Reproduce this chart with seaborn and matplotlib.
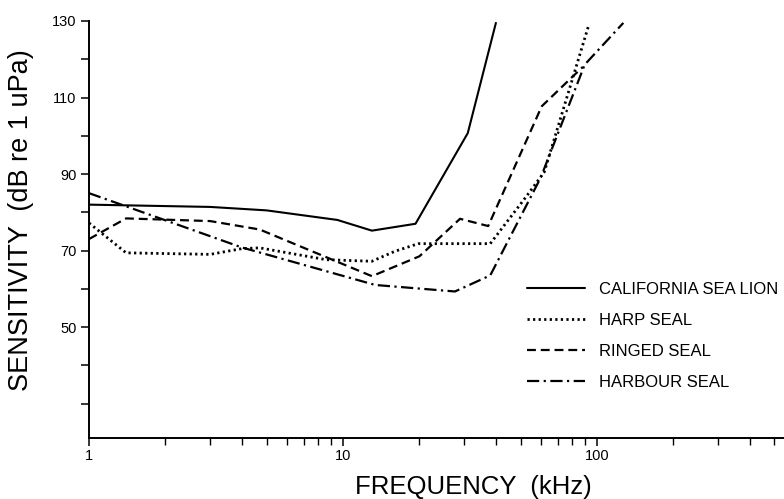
import numpy as np
import pandas as pd
import matplotlib
matplotlib.use("Agg")
import matplotlib.pyplot as plt
import matplotlib.ticker as mticker
import seaborn as sns

# ---- data ----
sealion_f = [1, 3, 5, 9.5, 13, 19.3, 31, 40]
sealion_db = [82, 81.4, 80.5, 78, 75.2, 77, 100.7, 129.5]

harp_f = [1, 1.4, 3, 4, 4.7, 8.6, 13, 16, 19.8, 38, 52.8, 62, 92.5]
harp_db = [77.2, 69.4, 69, 70.5, 70.7, 67.6, 67.2, 69.8, 71.8, 71.8, 84.2, 90.5, 128.6]

ringed_f = [1, 1.4, 3, 4.7, 13, 20, 28.9, 37.3, 60.6, 79.4, 88]
ringed_db = [73, 78.4, 77.7, 75.5, 63.3, 68.5, 78.3, 76.4, 107.7, 115.2, 118]

harbour_f = [1, 4, 13.4, 27.6, 38, 60, 89.5, 127]
harbour_db = [85, 70.8, 61, 59.3, 63.5, 89, 118.6, 129.5]

series_names = ["CALIFORNIA SEA LION", "HARP SEAL", "RINGED SEAL", "HARBOUR SEAL"]
yticks_all = [30, 40, 50, 60, 70, 80, 90, 100, 110, 120, 130]
yticks_labelled = [50, 70, 90, 110, 130]
xticks_labelled = [1, 10, 100]

sns.set_theme(style="white")
plt.rcParams["font.family"] = ["Liberation Sans", "DejaVu Sans"]

fig = plt.figure(figsize=(7.84, 4.99), dpi=100)
ax = fig.add_axes([89 / 784, 1 - 438 / 499, 1 - 89 / 784, (438 - 21) / 499])

styles = [
    dict(linestyle="-", lw=1.5),
    dict(linestyle=(0, (0.8, 1.2)), lw=2.0),
    dict(linestyle=(0, (4, 2.2)), lw=1.6),
    dict(linestyle=(0, (5.5, 2, 1, 2)), lw=1.6),
]
data = [(sealion_f, sealion_db), (harp_f, harp_db), (ringed_f, ringed_db), (harbour_f, harbour_db)]

for (fx, fy), name, st in zip(data, series_names, styles):
    df = pd.DataFrame({"f": fx, "db": fy})
    sns.lineplot(data=df, x="f", y="db", ax=ax, color="black", label=name,
                 estimator=None, sort=False, **st)

ax.set_xscale("log")
ax.set_xlim(1, 545)
ax.set_ylim(21, 130)

ax.set_yticks(yticks_all)
ax.set_yticklabels([str(t) if t in yticks_labelled else "" for t in yticks_all])
ax.xaxis.set_major_locator(mticker.FixedLocator(xticks_labelled))
ax.xaxis.set_major_formatter(mticker.FixedFormatter([str(t) for t in xticks_labelled]))
ax.xaxis.set_minor_locator(mticker.LogLocator(base=10, subs=np.arange(2, 10)))
ax.xaxis.set_minor_formatter(mticker.NullFormatter())

ax.tick_params(axis="both", which="major", direction="out", length=6, width=1.1,
               color="black", labelsize=10.5, labelcolor="black", pad=3,
               bottom=True, left=True)
ax.tick_params(axis="x", which="major", pad=2)
ax.tick_params(axis="x", which="minor", direction="out", length=5, width=1.0,
               color="black", bottom=True)

for side in ["top", "right"]:
    ax.spines[side].set_visible(False)
for side in ["left", "bottom"]:
    ax.spines[side].set_color("black")
    ax.spines[side].set_linewidth(1.4)

ax.set_xlabel("FREQUENCY  (kHz)", fontsize=18.5, color="black")
ax.xaxis.set_label_coords(0.553, -0.089)
ax.set_ylabel("SENSITIVITY  (dB re 1 uPa)", fontsize=19.5, color="black")
ax.yaxis.set_label_coords(-0.079, 0.523)

leg = ax.legend(loc="upper left", bbox_to_anchor=(0.62, 0.39), frameon=False,
                fontsize=12, handlelength=3.5, handletextpad=0.85,
                labelspacing=0.95, borderaxespad=0)
for t in leg.get_texts():
    t.set_color("black")

fig.savefig("out.png", dpi=100, facecolor="white")
